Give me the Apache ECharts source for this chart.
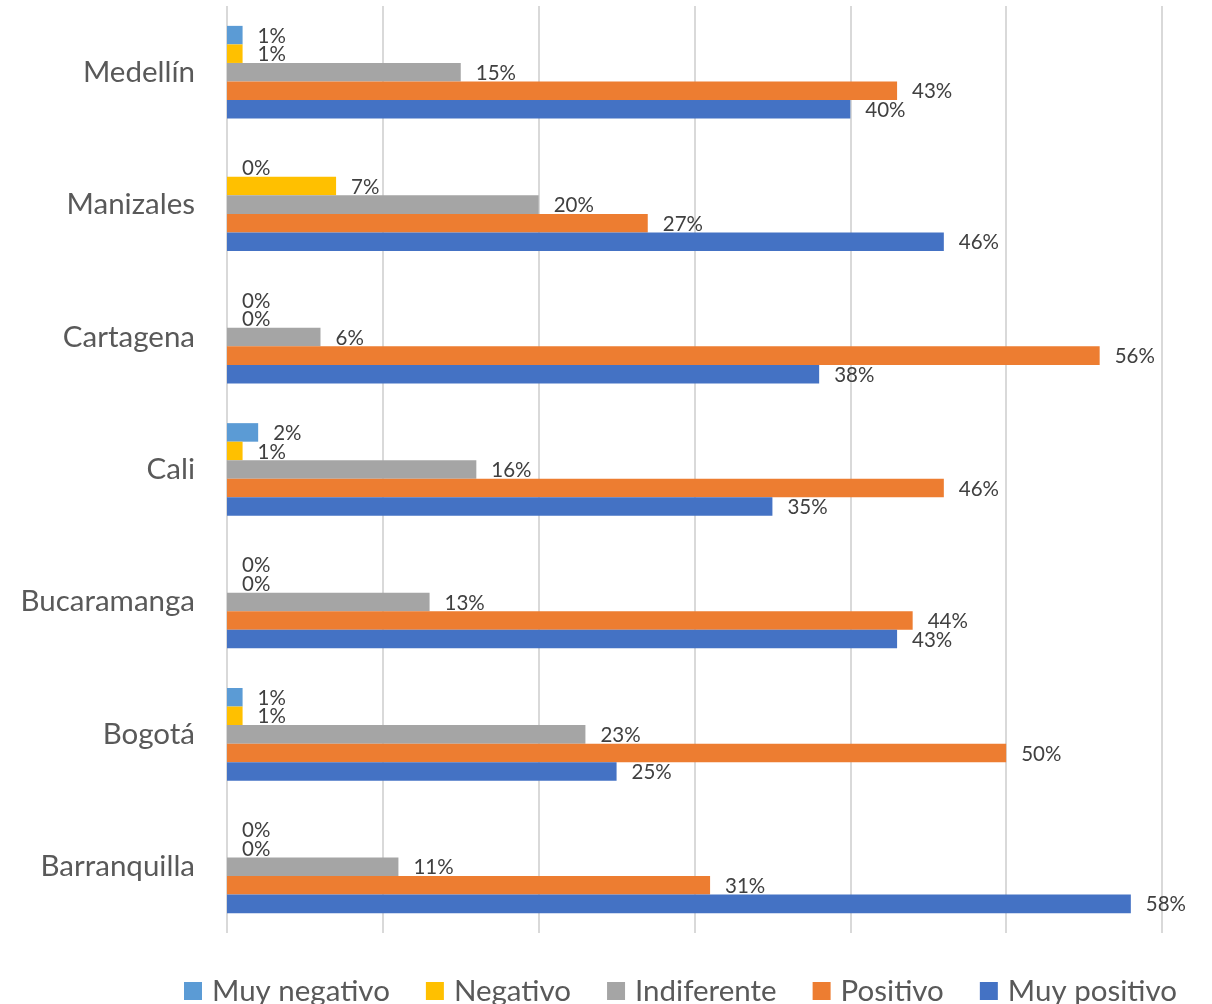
<!DOCTYPE html>
<html>
<head>
<meta charset="utf-8">
<script src="https://cdn.jsdelivr.net/npm/echarts@6/dist/echarts.min.js"></script>
<style>
  html, body { margin: 0; padding: 0; background: #ffffff; }
  #chart { width: 1212px; height: 1004px; }
</style>
</head>
<body>
<div id="chart"></div>
<script>
// Cities, listed from top to bottom as drawn
const cities = ['Medellín', 'Manizales', 'Cartagena', 'Cali', 'Bucaramanga', 'Bogotá', 'Barranquilla'];

// Share of answers per city (%)
const muyNegativo = [1, 0, 0, 2, 0, 1, 0];
const negativo    = [1, 7, 0, 1, 0, 1, 0];
const indiferente = [15, 20, 6, 16, 13, 23, 11];
const positivo    = [43, 27, 56, 46, 44, 50, 31];
const muyPositivo = [40, 46, 38, 35, 43, 25, 58];

const seriesNames = ['Muy negativo', 'Negativo', 'Indiferente', 'Positivo', 'Muy positivo'];
const seriesData = [muyNegativo, negativo, indiferente, positivo, muyPositivo];
const seriesColors = ['#5B9BD5', '#FFC000', '#A5A5A5', '#ED7D31', '#4472C4'];

const FONT = 'Lato, "Open Sans", sans-serif';

const chart = echarts.init(document.getElementById('chart'), null, { renderer: 'canvas' });

chart.setOption({
  animation: false,
  backgroundColor: '#ffffff',
  grid: { left: 227, right: 50, top: 6, bottom: 71, containLabel: false },
  xAxis: {
    type: 'value',
    min: 0,
    max: 60,
    interval: 10,
    axisLabel: { show: false },
    axisLine: { show: false },
    axisTick: { show: false },
    splitLine: { show: true, lineStyle: { color: '#D9D9D9', width: 2 } }
  },
  yAxis: {
    type: 'category',
    data: cities,
    inverse: true,
    axisLine: { show: false },
    axisTick: { show: false },
    axisLabel: { color: '#595959', fontSize: 29.5, fontFamily: FONT, margin: 32 }
  },
  legend: {
    data: seriesNames,
    top: 976,
    left: 184,
    padding: 0,
    icon: 'rect',
    itemWidth: 18,
    itemHeight: 18,
    itemGap: 36,
    textStyle: { color: '#595959', fontSize: 29.5, fontFamily: FONT, padding: [0, 0, 0, 5] }
  },
  series: seriesNames.map((name, i) => ({
    name: name,
    type: 'bar',
    data: seriesData[i],
    barGap: '0%',
    barCategoryGap: '30%',
    itemStyle: { color: seriesColors[i] },
    label: {
      show: true,
      position: 'right',
      distance: 15,
      offset: [0, 1],
      formatter: '{c}%',
      color: '#404040',
      fontSize: 20.5,
      fontFamily: FONT
    }
  }))
});
</script>
</body>
</html>
